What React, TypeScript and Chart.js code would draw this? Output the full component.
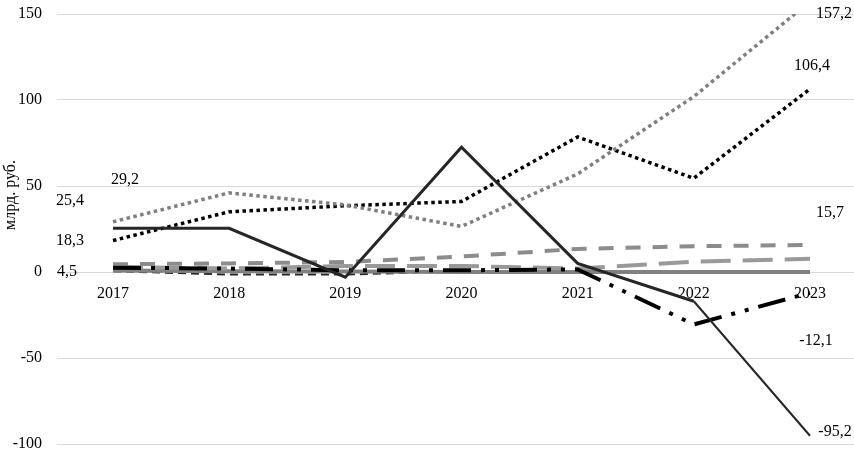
import React, { useEffect, useRef } from "react";
import { Chart, registerables } from "chart.js";

Chart.register(...registerables);

const years = [2017, 2018, 2019, 2020, 2021, 2022, 2023];
const yTickValues = [-100, -50, 0, 50, 100, 150];
const axisTitle = "млрд. руб.";

const seriesBlackSolid = [25.4, 25.4, -3, 72.5, 5, -17, -95.2];
const seriesGrayDotted = [29.2, 46, 39, 26.5, 57, 102, 157.2];
const seriesBlackDotted = [18.3, 35, 38.5, 41, 78.5, 54.5, 106.4];
const seriesDashDot = [2.5, 2, 1, 1, 1.5, -30.5, -12.1];
const seriesGrayDashShort = [4.5, 5, 5.8, 9, 13.4, 15, 15.7];
const seriesGrayDashLong = [3, 2, 3.5, 3.5, 2, 6, 7.7];
const seriesBlackDashThin = [0.5, -1.5, -1.5, 0.5, 0.5, 0.3, 0.3];
const seriesGraySolid = [0.8, 0.5, 0.3, 0, 0, 0, 0];

// which value labels to show: dataset index, point index, pixel offset
const valueLabels = [
  { ds: 0, i: 0, dx: -43, dy: -28 },
  { ds: 0, i: 6, dx: 25, dy: -4 },
  { ds: 1, i: 0, dx: 12, dy: -42 },
  { ds: 1, i: 6, dx: 24, dy: 12 },
  { ds: 2, i: 0, dx: -43, dy: 0 },
  { ds: 2, i: 6, dx: 2, dy: -23 },
  { ds: 3, i: 6, dx: 6, dy: 48 },
  { ds: 4, i: 0, dx: -46, dy: 8 },
  { ds: 4, i: 6, dx: 20, dy: -32 },
];

const fmt = (v: number) => v.toFixed(1).replace(".", ",");

const toPoints = (arr: number[]) => arr.map((y, i) => ({ x: years[i], y }));

const FONT = '"Liberation Serif", "Times New Roman", serif';

const labelPlugin = {
  id: "valueLabels",
  afterDatasetsDraw(chart: any) {
    const ctx = chart.ctx;
    ctx.save();
    ctx.font = `16px ${FONT}`;
    ctx.fillStyle = "#000";
    ctx.textAlign = "center";
    ctx.textBaseline = "middle";
    for (const l of valueLabels) {
      const meta = chart.getDatasetMeta(l.ds);
      const pt = meta.data[l.i];
      const v = chart.data.datasets[l.ds].data[l.i].y;
      ctx.fillText(fmt(v), pt.x + l.dx, pt.y + l.dy);
    }
    ctx.translate(11, 195);
    ctx.rotate(-Math.PI / 2);
    ctx.fillText(axisTitle, 0, 0);
    ctx.restore();
  },
};

export default function App() {
  const ref = useRef<HTMLCanvasElement | null>(null);
  useEffect(() => {
    if (!ref.current) return;
    Chart.defaults.font.family = FONT;
    Chart.defaults.color = "#000";
    const base = { pointRadius: 0, tension: 0, fill: false, borderCapStyle: "butt" as const };
    const chart = new Chart(ref.current, {
      type: "line",
      data: {
        datasets: [
          {
            ...base,
            data: toPoints(seriesBlackSolid),
            borderColor: "#262626",
            borderWidth: 3,
            segment: { borderWidth: (c: any) => (c.p0DataIndex === 5 ? 2 : 3) },
          } as any,
          { ...base, data: toPoints(seriesGrayDotted), borderColor: "#7f7f7f", borderWidth: 3.5, borderDash: [3.5, 3.5] },
          { ...base, data: toPoints(seriesBlackDotted), borderColor: "#000", borderWidth: 3.5, borderDash: [3.5, 3.5] },
          { ...base, data: toPoints(seriesDashDot), borderColor: "#000", borderWidth: 4, borderDash: [28, 10, 4, 10, 4, 10] },
          { ...base, data: toPoints(seriesGrayDashShort), borderColor: "#8c8c8c", borderWidth: 4, borderDash: [15, 12] },
          { ...base, data: toPoints(seriesGrayDashLong), borderColor: "#999999", borderWidth: 4, borderDash: [30, 12] },
          { ...base, data: toPoints(seriesGraySolid), borderColor: "#808080", borderWidth: 4 },
          { ...base, data: toPoints(seriesBlackDashThin), borderColor: "#262626", borderWidth: 2, borderDash: [8, 5] },
        ],
      },
      options: {
        animation: false,
        responsive: true,
        maintainAspectRatio: false,
        layout: { padding: { top: 14, bottom: 7, left: 0, right: 0 } },
        plugins: { legend: { display: false }, tooltip: { enabled: false } },
        scales: {
          x: {
            type: "linear",
            min: 2016.518,
            max: 2023.379,
            position: { y: 0 } as any,
            grid: { display: false },
            border: { display: false },
            afterBuildTicks: (s: any) => {
              s.ticks = years.map((v) => ({ value: v }));
            },
            afterFit: (s: any) => {
              s.height = 0;
            },
            ticks: {
              padding: 4,
              maxRotation: 0,
              autoSkip: false,
              font: { size: 16 },
              callback: (v: any) => String(v),
            },
          },
          y: {
            min: -100,
            max: 150,
            afterBuildTicks: (s: any) => {
              s.ticks = yTickValues.map((v) => ({ value: v }));
            },
            afterFit: (s: any) => {
              s.width = 57;
            },
            grid: { color: "#d9d9d9", lineWidth: 1, drawTicks: true, tickLength: 15, tickColor: "rgba(0,0,0,0)" },
            border: { display: false },
            ticks: {
              padding: 0,
              font: { size: 16, lineHeight: 0.8 },
              callback: (v: any) => String(v),
            },
          },
        },
      },
      plugins: [labelPlugin],
    });
    return () => chart.destroy();
  }, []);
  return (
    <div style={{ position: "absolute", left: 0, top: 0, width: 854, height: 451, background: "#fff" }}>
      <canvas ref={ref} />
    </div>
  );
}
